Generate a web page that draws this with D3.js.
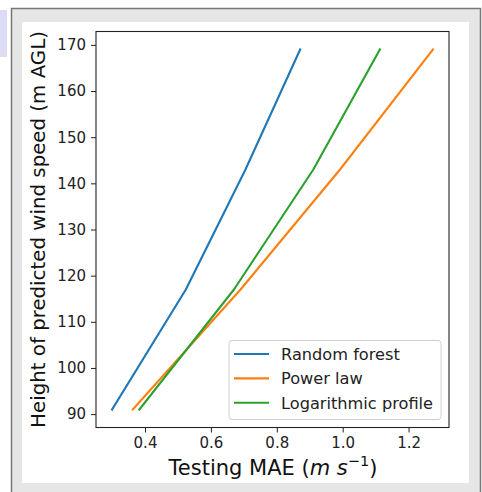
<!DOCTYPE html>
<html><head><meta charset="utf-8">
<script src="https://cdn.jsdelivr.net/npm/d3@7"></script>
<style>html,body{margin:0;padding:0;background:#fff;}svg{display:block;}</style>
</head><body>
<script>
const heights = [91, 117, 143, 169];
const randomForest = [0.30, 0.524, 0.705, 0.871];
const powerLaw = [0.363, 0.69, 0.992, 1.274];
const logProfile = [0.383, 0.67, 0.911, 1.113];
const seriesNames = ["Random forest", "Power law", "Logarithmic profile"];
const colors = ["#1f77b4", "#ff7f0e", "#2ca02c"];
const xTicks = [0.4, 0.6, 0.8, 1.0, 1.2];
const yTicks = [90, 100, 110, 120, 130, 140, 150, 160, 170];

const W = 482, H = 492;
const svg = d3.select("body").append("svg").attr("width", W).attr("height", H);

// page decorations
svg.append("rect").attr("x",0).attr("y",10).attr("width",7).attr("height",47).attr("fill","#dcdcf4");
svg.append("rect").attr("x",11.5).attr("y",8.5).attr("width",469).attr("height",490).attr("fill","#e6e6e6").attr("stroke","#777").attr("stroke-width",1.5);
svg.append("rect").attr("x",22).attr("y",22).attr("width",447).attr("height",461).attr("fill","#fff");

const L = 96, T = 31.5, R = 449, B = 427.5;
const allX = randomForest.concat(powerLaw, logProfile);
const xmin = d3.min(allX), xmax = d3.max(allX), xr = xmax - xmin;
const ymin = d3.min(heights), ymax = d3.max(heights), yr = ymax - ymin;
const x = d3.scaleLinear().domain([xmin - 0.05*xr, xmax + 0.05*xr]).range([L, R]);
const y = d3.scaleLinear().domain([ymin - 0.05*yr, ymax + 0.05*yr]).range([B, T]);

const font = "'DejaVu Sans', sans-serif";

// lines
const line = d3.line().x(d => x(d[0])).y(d => y(d[1]));
[randomForest, powerLaw, logProfile].forEach((s, i) => {
  svg.append("path").datum(s.map((v, j) => [v, heights[j]]))
    .attr("d", line).attr("fill","none").attr("stroke", colors[i])
    .attr("stroke-width", 2.1).attr("stroke-linecap","square").attr("stroke-linejoin","round");
});

// axes
const xAxis = svg.append("g").attr("transform", `translate(0,${B})`)
  .call(d3.axisBottom(x).tickValues(xTicks).tickFormat(d3.format(".1f")).tickSize(5).tickPadding(5));
const yAxis = svg.append("g").attr("transform", `translate(${L},0)`)
  .call(d3.axisLeft(y).tickValues(yTicks).tickFormat(d3.format("d")).tickSize(5).tickPadding(5));
[xAxis, yAxis].forEach(g => {
  g.select(".domain").remove();
  g.selectAll("line").attr("stroke","#222").attr("stroke-width",1);
  g.selectAll("text").attr("font-family", font).attr("font-size", 15).attr("fill","#222");
});
svg.append("rect").attr("x",L).attr("y",T).attr("width",R-L).attr("height",B-T)
  .attr("fill","none").attr("stroke","#222").attr("stroke-width",1.1);

// axis labels
const xl = svg.append("text").attr("x", 273).attr("y", 475).attr("text-anchor","middle")
  .attr("font-family", font).attr("font-size", 21).attr("fill","#111");
xl.append("tspan").text("Testing MAE (");
xl.append("tspan").attr("font-style","italic").text("m s");
xl.append("tspan").attr("font-size", 14.5).attr("dy", -9).text("−1");
xl.append("tspan").attr("dy", 9).text(")");

svg.append("text").attr("transform", `translate(45,${(T+B)/2}) rotate(-90)`)
  .attr("text-anchor","middle").attr("font-family", font).attr("font-size", 19.8).attr("fill","#111")
  .text("Height of predicted wind speed (m AGL)");

// legend
const lg = svg.append("g");
lg.append("rect").attr("x",229).attr("y",340.5).attr("width",212).attr("height",79).attr("rx",3)
  .attr("fill","#fff").attr("fill-opacity",0.8).attr("stroke","#d0d0d0");
seriesNames.forEach((n, i) => {
  const yy = 354 + i*24.4;
  lg.append("line").attr("x1",234).attr("x2",269).attr("y1",yy).attr("y2",yy)
    .attr("stroke", colors[i]).attr("stroke-width",2.1);
  lg.append("text").attr("x",281).attr("y",yy+6).attr("font-family",font).attr("font-size",16.2)
    .attr("fill","#222").text(n);
});
</script>
</body></html>
